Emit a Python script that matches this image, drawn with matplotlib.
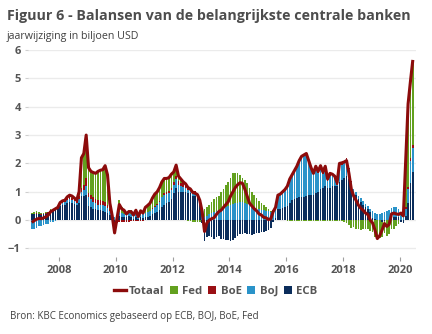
import numpy as np
import matplotlib
matplotlib.use('Agg')
import matplotlib.pyplot as plt
from matplotlib.lines import Line2D

plt.rcParams['font.family'] = ['Open Sans', 'DejaVu Sans']

# Monthly year-on-year change, trillion USD, Jan 2007 - Jun 2020
start_year = 2007

totaal = [
    -0.08, -0.02, 0.03, 0.06, 0.05, 0.08, 0.12, 0.18, 0.30, 0.35, 0.40, 0.45,  # 2007
    0.62, 0.68, 0.70, 0.82, 0.88, 0.85, 0.78, 0.70, 1.00, 2.20, 2.35, 3.00,  # 2008
    1.85, 1.72, 1.68, 1.65, 1.72, 1.76, 1.78, 1.92, 1.60, 0.60, 0.15, -0.45,  # 2009
    0.05, 0.55, 0.40, 0.35, 0.22, 0.30, 0.30, 0.18, 0.35, 0.12, 0.33, 0.25,  # 2010
    0.45, 0.52, 0.60, 0.78, 0.92, 1.00, 1.15, 1.35, 1.47, 1.47, 1.50, 1.62,  # 2011
    1.70, 1.94, 1.55, 1.45, 1.35, 1.28, 1.15, 1.10, 0.98, 0.95, 0.90, 0.70,  # 2012
    0.30, -0.40, -0.10, 0.00, 0.05, 0.08, 0.20, 0.30, 0.35, 0.45, 0.55, 0.65,  # 2013
    0.85, 1.00, 1.15, 1.25, 1.32, 1.30, 1.10, 0.85, 0.60, 0.50, 0.40, 0.33,  # 2014
    0.22, 0.18, 0.10, 0.08, 0.02, 0.05, 0.30, 0.45, 0.88, 0.92, 1.00, 1.08,  # 2015
    1.20, 1.45, 1.60, 1.75, 1.90, 2.10, 2.25, 2.30, 2.35, 2.10, 1.85, 1.65,  # 2016
    1.90, 1.72, 1.92, 1.70, 1.90, 1.45, 1.65, 1.62, 1.55, 1.32, 2.00, 2.02,  # 2017
    2.05, 2.10, 1.65, 1.10, 0.85, 0.70, 0.53, 0.42, 0.35, 0.25, 0.20, 0.00,  # 2018
    -0.10, -0.35, -0.65, -0.55, -0.35, -0.12, -0.22, -0.15, 0.22, 0.25, 0.22, 0.20,  # 2019
    0.25, 0.15, 2.10, 4.10, 4.90, 5.65,  # 2020
]

ecb = [
    0.20, 0.20, 0.22, 0.20, 0.18, 0.20, 0.22, 0.25, 0.30, 0.32, 0.35, 0.38,
    0.50, 0.55, 0.55, 0.62, 0.65, 0.62, 0.58, 0.52, 0.62, 0.85, 0.85, 0.90,
    0.50, 0.45, 0.40, 0.38, 0.35, 0.35, 0.32, 0.30, 0.25, 0.18, 0.10, -0.05,
    0.05, 0.15, 0.12, 0.10, 0.12, 0.15, 0.10, 0.05, 0.10, 0.05, 0.10, 0.08,
    0.10, 0.12, 0.15, 0.20, 0.25, 0.30, 0.35, 0.45, 0.55, 0.60, 0.65, 0.75,
    0.95, 1.15, 1.00, 1.00, 1.00, 1.00, 0.95, 0.95, 0.85, 0.85, 0.80, 0.60,
    -0.10, -0.75, -0.60, -0.55, -0.60, -0.67, -0.60, -0.55, -0.65, -0.65, -0.70, -0.70,
    -0.75, -0.70, -0.62, -0.55, -0.50, -0.48, -0.47, -0.48, -0.50, -0.52, -0.50, -0.45,
    -0.45, -0.43, -0.42, -0.37, -0.36, -0.28, -0.05, 0.08, 0.40, 0.40, 0.42, 0.45,
    0.50, 0.60, 0.70, 0.75, 0.78, 0.80, 0.80, 0.82, 0.85, 0.88, 0.88, 0.88,
    0.95, 1.00, 1.10, 1.15, 1.20, 1.15, 1.15, 1.20, 1.20, 1.20, 1.35, 1.40,
    1.50, 1.55, 1.45, 1.20, 1.00, 0.90, 0.75, 0.65, 0.55, 0.45, 0.38, 0.30,
    0.08, 0.05, 0.02, 0.00, -0.05, -0.02, 0.00, 0.02, 0.05, 0.10, 0.12, 0.10,
    -0.05, -0.10, 0.15, 0.60, 1.30, 1.70,
]

boj = [
    -0.32, -0.30, -0.28, -0.22, -0.20, -0.18, -0.15, -0.12, -0.08, -0.05, -0.03, 0.00,
    0.05, 0.05, 0.08, 0.10, 0.10, 0.10, 0.10, 0.10, 0.12, 0.15, 0.20, 0.30,
    0.30, 0.28, 0.25, 0.22, 0.20, 0.20, 0.20, 0.20, 0.18, 0.15, 0.12, 0.10,
    0.10, 0.12, 0.12, 0.12, 0.10, 0.10, 0.12, 0.10, 0.12, 0.10, 0.12, 0.12,
    0.15, 0.15, 0.18, 0.20, 0.22, 0.25, 0.30, 0.35, 0.35, 0.33, 0.30, 0.30,
    0.30, 0.30, 0.25, 0.20, 0.18, 0.15, 0.12, 0.10, 0.10, 0.10, 0.10, 0.10,
    0.10, 0.10, 0.15, 0.20, 0.25, 0.30, 0.32, 0.35, 0.38, 0.42, 0.46, 0.50,
    0.55, 0.58, 0.60, 0.62, 0.65, 0.65, 0.62, 0.58, 0.52, 0.47, 0.44, 0.41,
    0.38, 0.36, 0.35, 0.33, 0.32, 0.30, 0.32, 0.35, 0.45, 0.50, 0.55, 0.60,
    0.73, 0.88, 0.93, 1.03, 1.15, 1.33, 1.48, 1.49, 1.48, 1.20, 0.95, 0.74,
    0.89, 0.66, 0.74, 0.47, 0.62, 0.22, 0.42, 0.34, 0.25, 0.04, 0.57, 0.56,
    0.55, 0.60, 0.35, 0.15, 0.10, 0.10, 0.10, 0.12, 0.13, 0.12, 0.12, 0.10,
    0.25, 0.20, 0.18, 0.20, 0.25, 0.30, 0.33, 0.35, 0.38, 0.38, 0.35, 0.30,
    0.20, 0.15, 0.25, 0.50, 0.80, 0.85,
]

boe = [
    0.00, 0.01, 0.02, 0.02, 0.02, 0.02, 0.02, 0.02, 0.04, 0.04, 0.05, 0.04,
    0.04, 0.04, 0.04, 0.05, 0.05, 0.05, 0.05, 0.04, 0.10, 0.15, 0.20, 0.30,
    0.15, 0.15, 0.15, 0.15, 0.15, 0.15, 0.15, 0.15, 0.12, 0.08, 0.00, -0.10,
    -0.10, -0.08, -0.06, -0.05, -0.05, -0.05, -0.04, -0.04, -0.03, -0.03, -0.02, -0.02,
    0.00, 0.00, 0.00, 0.02, 0.03, 0.03, 0.03, 0.03, 0.04, 0.05, 0.06, 0.08,
    0.10, 0.12, 0.12, 0.12, 0.12, 0.10, 0.10, 0.08, 0.08, 0.06, 0.06, 0.05,
    0.02, 0.02, 0.00, 0.00, 0.00, 0.00, 0.00, 0.00, 0.00, 0.00, 0.00, 0.00,
    0.00, 0.00, 0.00, 0.00, 0.00, 0.00, 0.00, 0.00, 0.00, 0.00, 0.00, 0.00,
    0.00, 0.00, 0.00, 0.00, 0.00, 0.00, 0.00, 0.00, 0.00, 0.00, 0.00, 0.00,
    0.00, 0.00, 0.00, 0.00, 0.00, 0.00, 0.00, 0.02, 0.05, 0.05, 0.05, 0.06,
    0.08, 0.08, 0.10, 0.10, 0.10, 0.10, 0.10, 0.10, 0.12, 0.10, 0.10, 0.08,
    0.05, 0.05, 0.03, 0.02, 0.00, 0.00, 0.00, 0.00, 0.00, 0.00, 0.00, 0.00,
    0.00, 0.00, 0.00, 0.00, 0.00, 0.00, 0.00, 0.00, 0.00, 0.00, 0.00, 0.00,
    0.00, 0.00, 0.05, 0.08, 0.10, 0.10,
]

fed = [
    0.06, 0.07, 0.07, 0.06, 0.05, 0.04, 0.03, 0.03, 0.04, 0.04, 0.03, 0.03,
    0.03, 0.04, 0.03, 0.05, 0.08, 0.08, 0.05, 0.04, 0.16, 1.05, 1.10, 1.50,
    0.90, 0.84, 0.88, 0.90, 1.02, 1.06, 1.11, 1.27, 1.05, 0.19, 0.05, -0.15,
    0.00, 0.45, 0.22, 0.18, 0.05, 0.10, 0.12, 0.07, 0.16, 0.00, 0.13, 0.07,
    0.20, 0.25, 0.27, 0.36, 0.42, 0.42, 0.47, 0.52, 0.53, 0.49, 0.49, 0.49,
    0.35, 0.37, 0.18, 0.13, 0.05, 0.03, -0.02, -0.03, -0.05, -0.06, -0.06, -0.05,
    0.28, 0.28, 0.33, 0.35, 0.40, 0.45, 0.48, 0.50, 0.62, 0.68, 0.79, 0.85,
    0.95, 1.07, 1.05, 1.03, 0.95, 0.85, 0.78, 0.72, 0.63, 0.53, 0.44, 0.36,
    0.30, 0.25, 0.20, 0.12, 0.06, 0.03, 0.02, 0.01, 0.00, 0.00, 0.00, 0.00,
    -0.03, -0.03, -0.03, -0.03, -0.03, -0.03, -0.03, -0.03, -0.03, -0.03, -0.03, -0.03,
    -0.02, -0.02, -0.02, -0.02, -0.02, -0.02, -0.02, -0.02, -0.02, -0.02, -0.02, -0.02,
    -0.05, -0.10, -0.18, -0.27, -0.25, -0.30, -0.32, -0.35, -0.33, -0.32, -0.30, -0.40,
    -0.43, -0.60, -0.65, -0.62, -0.55, -0.42, -0.55, -0.50, -0.30, -0.30, -0.20, -0.12,
    0.10, 0.10, 1.65, 2.92, 2.70, 3.00,
]

years = list(range(2008, 2021, 2))

text_col = '#555555'
line_col = '#8c0b0b'
colors = {'ECB': '#0b2d5b', 'BoJ': '#2a93c9', 'BoE': '#9a0f14', 'Fed': '#63a11f'}

n = len(totaal)
x = start_year + (np.arange(n) + 0.5) / 12

W, H = 432, 334
fig = plt.figure(figsize=(W / 100, H / 100), dpi=100)
ax = fig.add_axes([28 / W, 1 - 257 / H, (416 - 28) / W, (257 - 50) / H])

# stacked columns: positives upward, negatives downward
pos_base = np.zeros(n)
neg_base = np.zeros(n)
for name, vals in [('ECB', ecb), ('BoJ', boj), ('BoE', boe), ('Fed', fed)]:
    v = np.asarray(vals)
    base = np.where(v >= 0, pos_base, neg_base)
    ax.bar(x, v, width=0.058, bottom=base, color=colors[name], linewidth=0, zorder=2)
    pos_base += np.clip(v, 0, None)
    neg_base += np.clip(v, None, 0)

ax.plot(x, totaal, color=line_col, lw=2.2, solid_joinstyle='round',
        solid_capstyle='butt', zorder=5)

ax.set_xlim(2006.91, 2020.57)
ax.set_ylim(-1.3, 6.0)
ax.set_yticks(range(-1, 7))
ax.set_xticks(years)
ax.set_xticklabels([str(y) for y in years])
ax.yaxis.grid(True, color='#ebebeb', lw=1.0, zorder=0)
ax.set_axisbelow(True)
for s in ax.spines.values():
    s.set_visible(False)
ax.tick_params(axis='y', length=2.2, width=0.8, color='#cfcfcf', pad=3,
               labelsize=8, labelcolor=text_col)
ax.tick_params(axis='x', length=3, width=0.8, color='#a0a0a0', pad=3,
               labelsize=8, labelcolor=text_col)
for lab in ax.get_xticklabels() + ax.get_yticklabels():
    lab.set_fontweight('bold')

fig.text(7 / W, 1 - 16 / H, 'Figuur 6 - Balansen van de belangrijkste centrale banken',
         fontsize=10.3, fontweight='bold', color='#4d4d4d', va='center')
fig.text(7 / W, 1 - 37 / H, 'jaarwijziging in biljoen USD',
         fontsize=7.7, color='#404040', va='center')
fig.text(10 / W, 1 - 316 / H, 'Bron: KBC Economics gebaseerd op ECB, BOJ, BoE, Fed',
         fontsize=7, color='#404040', va='center')

handles = [Line2D([], [], color=line_col, lw=2.4)]
labels = ['Totaal']
for name in ['Fed', 'BoE', 'BoJ', 'ECB']:
    handles.append(Line2D([], [], marker='s', linestyle='none', markersize=5.5,
                          markerfacecolor=colors[name], markeredgewidth=0))
    labels.append(name)
fig.legend(handles, labels, loc='center', bbox_to_anchor=(216 / W, 1 - 291 / H),
           ncol=5, frameon=False, handlelength=1.0, handletextpad=0.25,
           columnspacing=0.35, prop={'size': 8.2, 'weight': 'bold'},
           labelcolor=text_col)

fig.savefig('out.png', dpi=100)
